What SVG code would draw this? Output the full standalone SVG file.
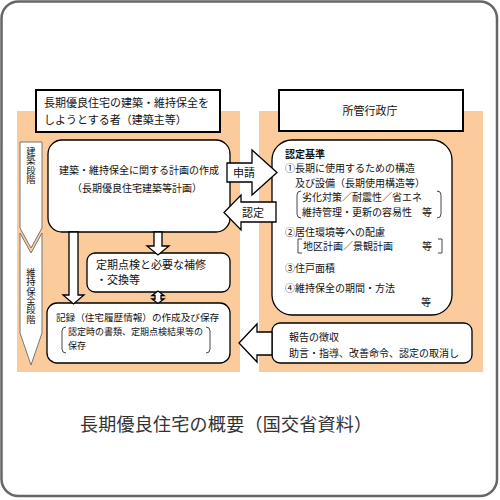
<svg xmlns="http://www.w3.org/2000/svg" width="500" height="500" viewBox="0 0 500 500">
<style>
text{font-family:"Noto Sans CJK JP","Noto Sans CJK SC",sans-serif;fill:#111}
.t10{font-size:10px}
.t11{font-size:11px}
.t9{font-size:9px}
.vt{font-size:9.3px;writing-mode:vertical-rl}
.box{fill:#fff;stroke:#000;stroke-width:1.3}
.title{fill:#fff;stroke:#000;stroke-width:2}
.peach{fill:#FCCB9C}
.arr{fill:#fff;stroke:#000;stroke-width:1.3;stroke-linejoin:miter}
.stage{fill:#fff;stroke:#777;stroke-width:1}
.br{fill:none;stroke:#333;stroke-width:0.9}
</style>
<rect x="1.5" y="1.5" width="495.5" height="494.5" rx="17" fill="#fff" stroke="#666" stroke-width="2.5"/>
<rect class="peach" x="17" y="111" width="223" height="261"/>
<rect class="peach" x="259" y="111" width="224" height="261"/>

<g id="owner">
<rect class="title" x="36" y="90" width="184" height="42"/>
<text class="t11" x="44" y="107">長期優良住宅の建築・維持保全を</text>
<text class="t11" x="44" y="124">しようとする者（建築主等）</text>
</g>
<g id="authority">
<rect class="title" x="279" y="90" width="184" height="41"/>
<text class="t11" x="370" y="115" text-anchor="middle">所管行政庁</text>
</g>

<g id="stage-build">
<polygon class="stage" points="20,142 42,142 42,228 31,248 20,228"/>
<text class="vt" x="31" y="147">建築段階</text>
</g>
<g id="stage-maint">
<polygon class="stage" points="20,233 31,253 42,233 42,333 31,365 20,333"/>
<text class="vt" x="31" y="268">維持保全段階</text>
</g>

<g id="plan">
<rect class="box" x="48" y="140" width="182" height="92" rx="14"/>
<text class="t10" x="139" y="173.5" text-anchor="middle">建築・維持保全に関する計画の作成</text>
<text class="t10" x="137" y="191.5" text-anchor="middle">（長期優良住宅建築等計画）</text>
</g>
<g id="inspection">
<rect class="box" x="87" y="253" width="143" height="39" rx="8"/>
<text class="t11" x="96" y="269">定期点検と必要な補修</text>
<text class="t11" x="96" y="284">・交換等</text>
</g>
<g id="record">
<rect class="box" x="47" y="303" width="183" height="60" rx="10"/>
<text class="t10" x="56" y="320.5" style="font-size:9.6px">記録（住宅履歴情報）の作成及び保存</text>
<path class="br" d="M66,327 Q62,327 62,331 L62,349 Q62,353 66,353"/>
<path class="br" d="M206,327 Q210,327 210,331 L210,349 Q210,353 206,353"/>
<text class="t9" x="68" y="335">認定時の書類、定期点検結果等の</text>
<text class="t9" x="68" y="349">保存</text>
</g>
<g id="criteria">
<rect class="box" x="272" y="140" width="180" height="175" rx="20"/>
<text class="t10" x="285" y="157.5" font-weight="bold">認定基準</text>
<text class="t10" x="285" y="172">①長期に使用するための構造</text>
<text class="t10" x="295" y="186.5">及び設備（長期使用構造等）</text>
<path class="br" d="M301,191 Q297,191 297,195 L297,214 Q297,218 301,218"/>
<path class="br" d="M437,191 Q441,191 441,195 L441,214 Q441,218 437,218"/>
<text class="t10" x="302" y="201">劣化対策／耐震性／省エネ</text>
<text class="t10" x="302" y="215.5">維持管理・更新の容易性</text>
<text class="t10" x="422" y="215.5">等</text>
<text class="t10" x="285" y="235.5">②居住環境等への配慮</text>
<path class="br" d="M302,239 L298,239 L298,253 L302,253"/>
<path class="br" d="M438,239 L442,239 L442,253 L438,253"/>
<text class="t10" x="303" y="250">地区計画／景観計画</text>
<text class="t10" x="422" y="250">等</text>
<text class="t10" x="285" y="271.5">③住戸面積</text>
<text class="t10" x="285" y="291.5">④維持保全の期間・方法</text>
<text class="t10" x="421" y="306">等</text>
</g>
<g id="report">
<rect class="box" x="272" y="323" width="200" height="40" rx="8"/>
<text class="t10" x="289" y="340.5">報告の徴収</text>
<text class="t10" x="289" y="356.5">助言・指導、改善命令、認定の取消し</text>
</g>

<g id="connectors">
<polygon class="arr" points="227,163 252,163 252,150 277,172.5 252,195 252,182 227,182"/>
<text class="t11" x="244" y="176.5" text-anchor="middle">申請</text>
<polygon class="arr" points="276,202 241,202 241,195 224,212.5 241,230 241,222 276,222"/>
<text class="t11" x="253" y="216.5" text-anchor="middle">認定</text>
<polygon class="arr" points="272,332 257,332 257,324 239,343 257,362 257,355 272,355"/>
<polygon class="arr" points="69,232 78,232 78,295 84,295 73.5,304 63,295 69,295"/>
<polygon class="arr" points="154,232 162,232 162,246 169,246 158,255 147,246 154,246"/>
<polygon class="arr" points="158,291 164,295.5 161,295.5 161,299 164,299 158,303.5 152,299 155,299 155,295.5 152,295.5"/>
</g>

<text x="80" y="431" textLength="292" lengthAdjust="spacing" style="font-size:18px;fill:#333">長期優良住宅の概要（国交省資料）</text>
</svg>
